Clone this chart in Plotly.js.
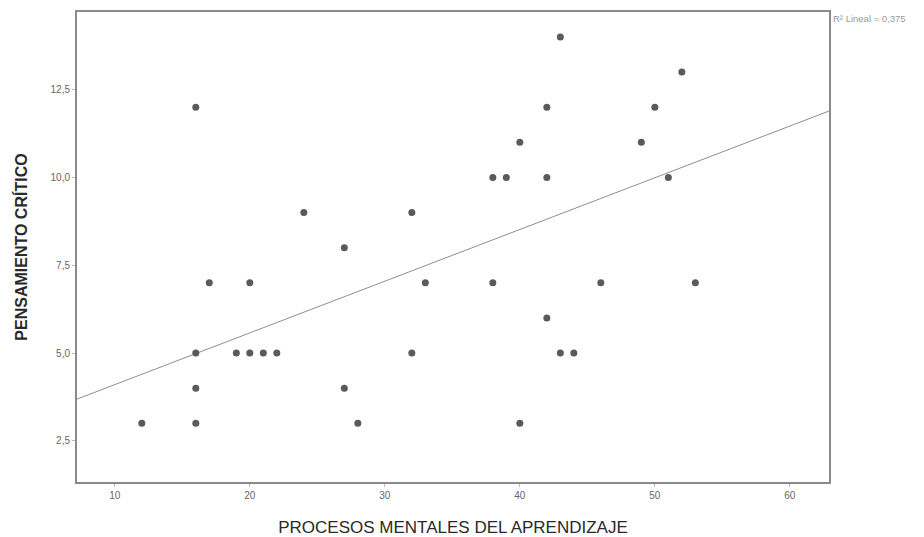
<!DOCTYPE html>
<html><head><meta charset="utf-8">
<script src="https://cdn.plot.ly/plotly-3.0.1.min.js"></script>
<style>html,body{margin:0;padding:0;background:#fff}#chart{width:924px;height:537px}</style>
</head><body><div id="chart"></div>
<script>
const procesosMentales = [12,16,16,16,16,17,19,20,20,21,22,24,27,27,28,32,32,33,38,38,39,40,40,42,42,42,43,43,44,46,49,50,51,52,53];
const pensamientoCritico = [3,3,4,5,12,7,5,5,7,5,5,9,8,4,3,9,5,7,10,7,10,11,3,12,10,6,14,5,5,7,11,12,10,13,7];
const xTicks = [10,20,30,40,50,60];
const yTicks = [2.5,5,7.5,10,12.5];
const xRange = [7.2, 62.9];
const yRange = [1.33, 14.71];
// SPSS linear fit line at the two ends of the x range
const fitLineX = [7.2, 62.9];
const fitLineY = [3.69, 11.89];
const r2Label = 'R² Lineal = 0,375';

const traces = [
 {x: fitLineX, y: fitLineY, mode:'lines', line:{color:'#8f8f8f', width:1}, hoverinfo:'skip', showlegend:false},
 {x: procesosMentales, y: pensamientoCritico, mode:'markers', type:'scatter',
  marker:{color:'#5a5a5a', size:7, line:{width:0}}, showlegend:false}
];
const font = {family:'"Liberation Sans", Arial, sans-serif'};
const layout = {
 width:924, height:537,
 margin:{l:77, r:95, t:12, b:55},
 paper_bgcolor:'#fff', plot_bgcolor:'#fff',
 separators: ',.',
 font: font,
 xaxis:{range:xRange, tickvals:xTicks, ticktext:xTicks.map(String), showgrid:false, zeroline:false,
   showline:true, mirror:true, linecolor:'#8a8a8a', linewidth:2, ticks:'outside', ticklen:3, tickcolor:'#bbb',
   tickfont:{size:10, color:'#666'},
   title:{text:'PROCESOS MENTALES DEL APRENDIZAJE', font:{size:17, color:'#2a2a2a'}, standoff:21}},
 yaxis:{range:yRange, tickvals:yTicks, tickformat:'.1f', showgrid:false, zeroline:false,
   showline:true, mirror:true, linecolor:'#8a8a8a', linewidth:2, ticks:'outside', ticklen:3, tickcolor:'#bbb',
   tickfont:{size:10, color:'#666'},
   title:{text:'<b>PENSAMIENTO CRÍTICO</b>', font:{size:16, color:'#2a2a2a'}, standoff:19}},
 annotations:[{xref:'paper', yref:'paper', x:1.003, y:0.987, xanchor:'left', yanchor:'middle', showarrow:false,
   text:r2Label, font:{size:9.5, color:'#999'}}]
};
Plotly.newPlot('chart', traces, layout, {displayModeBar:false, staticPlot:true});
</script></body></html>
